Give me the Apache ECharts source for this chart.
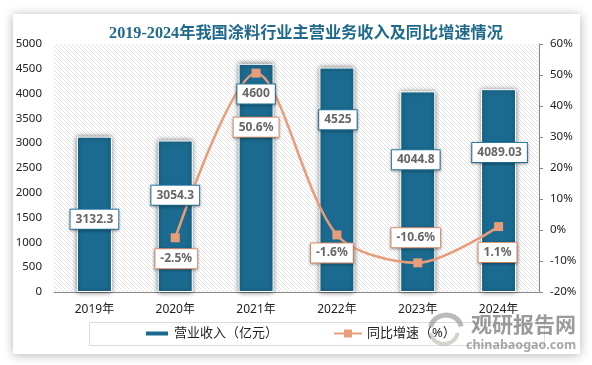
<!DOCTYPE html>
<html>
<head>
<meta charset="utf-8">
<style>
  html, body { margin: 0; padding: 0; background: #fff; }
  #chart { width: 592px; height: 365px; }
</style>
<script src="https://cdn.jsdelivr.net/npm/echarts@6/dist/echarts.min.js"></script>
</head>
<body>
<div id="chart"></div>
<script>
const categories = ['2019年', '2020年', '2021年', '2022年', '2023年', '2024年']
const revenue = [3132.3, 3054.3, 4600, 4525, 4044.8, 4089.03]
const growth = [null, -2.5, 50.6, -1.6, -10.6, 1.1]
const leftTicks = { min: 0, max: 5000, interval: 500 }
const rightTicks = { min: -20, max: 60, interval: 10 }

// 标签偏移
const barLabelOffsets = [[0, 5], [0, -21], [0, -84], [1, -60], [-2, -32], [1, -38]]
const lineLabelOffsets = [[0, 0], [1, 21], [0, 54], [-5, 18], [-2, -25], [-1, 26]]

const BLUE = '#1b6b90'
const ORANGE = '#e99c79'
const textFont = '"Noto Sans", "Noto Sans CJK SC", sans-serif'

// 网格背景的斜线
function hatch() {
  const c = document.createElement('canvas')
  c.width = 4
  c.height = 4
  const ctx = c.getContext('2d')
  ctx.fillStyle = '#fff'
  ctx.fillRect(0, 0, 4, 4)
  ctx.strokeStyle = '#e2e2e2'
  ctx.lineWidth = 1
  ctx.beginPath()
  ctx.moveTo(-1, 3)
  ctx.lineTo(1, 5)
  ctx.moveTo(-1, -1)
  ctx.lineTo(5, 5)
  ctx.moveTo(3, -1)
  ctx.lineTo(5, 1)
  ctx.stroke()
  return c
}

const labelBox = {
  show: true,
  position: 'inside',
  color: '#666',
  fontFamily: textFont,
  fontSize: 12,
  fontWeight: 'bold',
  backgroundColor: '#fff',
  padding: [4, 5, 3, 5],
  borderWidth: 1,
  shadowBlur: 3,
  shadowColor: 'rgba(0,0,0,0.35)',
  shadowOffsetY: 1
}

const myChart = echarts.init(document.getElementById('chart'))
const option = {
  animation: false,
  backgroundColor: '#fff',
  textStyle: { fontFamily: textFont },
  title: {
    text: '2019-2024年我国涂料行业主营业务收入及同比增速情况',
    left: 301,
    top: 21,
    textAlign: 'center',
    textStyle: {
      fontFamily: '"Liberation Serif", "Noto Sans CJK SC", serif',
      fontSize: 16.2,
      fontWeight: 'bold',
      color: '#1f6a8c'
    }
  },
  grid: {
    left: 54,
    right: 53,
    top: 44,
    bottom: 73,
    show: true,
    borderWidth: 0,
    backgroundColor: { image: hatch(), repeat: 'repeat' }
  },
  legend: [
    {
      data: [{ name: '营业收入（亿元）', icon: 'rect' }],
      left: 144,
      top: 327,
      padding: 0,
      itemWidth: 24,
      itemHeight: 6,
      itemGap: 0,
      textStyle: { fontSize: 13, color: '#222', fontFamily: textFont }
    },
    {
      data: ['同比增速（%）'],
      left: 333,
      top: 327,
      padding: 0,
      itemWidth: 28,
      itemHeight: 10,
      textStyle: { fontSize: 13, color: '#222', fontFamily: textFont }
    }
  ],
  xAxis: {
    type: 'category',
    data: categories,
    axisTick: { show: false },
    axisLine: { lineStyle: { color: '#888', width: 1 } },
    axisLabel: { color: '#222', fontSize: 12, margin: 12, fontFamily: textFont }
  },
  yAxis: [
    {
      type: 'value',
      min: leftTicks.min,
      max: leftTicks.max,
      interval: leftTicks.interval,
      splitLine: { show: false },
      axisLine: { show: false },
      axisTick: { show: false },
      axisLabel: {
        color: '#222',
        fontSize: 11.5,
        margin: 12,
        fontFamily: textFont,
        formatter: function (v) {
          return String(v)
        }
      }
    },
    {
      type: 'value',
      position: 'right',
      min: rightTicks.min,
      max: rightTicks.max,
      interval: rightTicks.interval,
      splitLine: { show: false },
      axisLine: { show: true, lineStyle: { color: '#888', width: 1 } },
      axisTick: { show: true, length: 4, lineStyle: { color: '#888' } },
      axisLabel: { color: '#222', fontSize: 11.5, margin: 11, formatter: '{value}%', fontFamily: textFont }
    }
  ],
  series: [
    {
      name: '营业收入（亿元）',
      type: 'bar',
      barWidth: 35,
      barGap: '-100%',
      itemStyle: {
        color: BLUE,
        borderColor: '#fff',
        borderWidth: 1,
        shadowBlur: 5,
        shadowColor: 'rgba(0,0,0,0.55)'
      },
      data: revenue
    },
    {
      name: '同比增速（%）',
      type: 'line',
      yAxisIndex: 1,
      smooth: 0.3,
      symbol: 'rect',
      symbolSize: 9,
      z: 3,
      lineStyle: { color: ORANGE, width: 2.5 },
      itemStyle: { color: ORANGE },
      data: growth.map((v, i) => ({
        value: v,
        label: {
          ...labelBox,
          position: 'inside',
          borderColor: ORANGE,
          offset: lineLabelOffsets[i],
          formatter: v + '%'
        }
      }))
    },
    // 透明柱只用来放标签，让标签压在折线上面
    {
      name: '营业收入标签',
      type: 'bar',
      barWidth: 35,
      z: 5,
      silent: true,
      itemStyle: { color: 'transparent' },
      data: revenue.map((v, i) => ({
        value: v,
        label: {
          ...labelBox,
          borderColor: '#2b82ad',
          offset: barLabelOffsets[i],
          formatter: String(v)
        }
      }))
    }
  ],
  graphic: [
    // 白色卡片
    {
      type: 'rect',
      silent: true,
      z: -10,
      shape: { x: 13, y: 14, width: 567, height: 340 },
      style: { fill: '#fff', shadowBlur: 10, shadowColor: 'rgba(0,0,0,0.3)', shadowOffsetX: 0, shadowOffsetY: 1 }
    },
    // 图例外框
    {
      type: 'rect',
      silent: true,
      z: 0,
      shape: { x: 89.5, y: 322.5, width: 455, height: 23 },
      style: { fill: 'none', stroke: '#dcdcdc', lineWidth: 1 }
    },
    // 水印
    {
      type: 'text',
      silent: true,
      z: 20,
      left: 471,
      top: 314,
      style: { text: '观研报告网', fill: 'rgba(120,120,120,0.75)', font: 'bold 21px "Noto Sans CJK SC"' }
    },
    {
      type: 'text',
      silent: true,
      z: 20,
      left: 466,
      top: 339,
      style: { text: 'chinabaogao.com', fill: 'rgba(130,130,130,0.7)', font: 'bold 12.5px "Noto Sans"' }
    },
    {
      type: 'arc',
      silent: true,
      z: 20,
      shape: { cx: 446, cy: 331, r: 16, startAngle: 3.4, endAngle: 6.0 },
      style: { fill: 'none', stroke: 'rgba(130,130,130,0.55)', lineWidth: 5 }
    },
    {
      type: 'arc',
      silent: true,
      z: 20,
      shape: { cx: 444, cy: 330, r: 14, startAngle: 0.2, endAngle: 2.9 },
      style: { fill: 'none', stroke: 'rgba(170,170,150,0.5)', lineWidth: 4 }
    }
  ]
}
myChart.setOption(option)
window.onresize = function () {
  myChart.resize()
}
</script>
</body>
</html>
